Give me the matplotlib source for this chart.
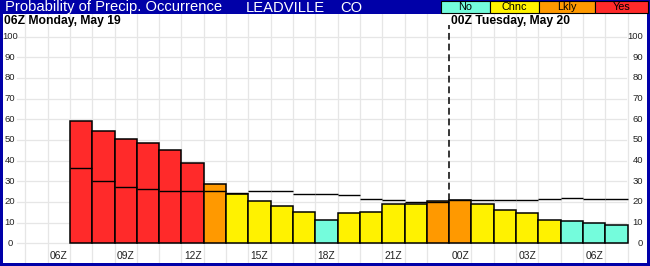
import matplotlib
matplotlib.use("Agg")
import matplotlib.pyplot as plt
from matplotlib.patches import Rectangle
import matplotlib.transforms as mtransforms

plt.rcParams['font.family'] = ['Liberation Sans', 'DejaVu Sans']

# hourly data, hour 7 = 07Z May 19 ... hour 31 = 07Z May 20
hours = list(range(7, 32))
pop = [59, 54.5, 50.6, 48.7, 45.3, 38.7, 28.5, 23.7, 20.6, 18.2, 15.0, 11.4, 14.5,
       15.0, 18.9, 18.9, 20.6, 20.9, 18.9, 16.3, 14.5, 11.4, 10.9, 10.0, 9.0]
clim = [36.3, 30.0, 27.1, 26.1, 25.2, 25.2, 25.2, 24.2, 25.2, 25.2, 23.9, 23.9, 23.4,
        21.4, 20.9, 19.8, 19.8, 21.1, 21.1, 20.8, 20.8, 21.3, 21.8, 21.3, 21.3]
category = ['Yes'] * 6 + ['Lkly'] + ['Chnc'] * 4 + ['No'] + ['Chnc'] * 4 + ['Lkly'] * 2 \
    + ['Chnc'] * 4 + ['No'] * 3
cat_names = ['No', 'Chnc', 'Lkly', 'Yes']
cat_colors = {'No': '#74FCDC', 'Chnc': '#FFF200', 'Lkly': '#FF9900', 'Yes': '#FF2A2A'}
xtick_hours = [6, 9, 12, 15, 18, 21, 24, 27, 30]
xtick_labels = ['06Z', '09Z', '12Z', '15Z', '18Z', '21Z', '00Z', '03Z', '06Z']
yticks = list(range(0, 101, 10))
day_break = 23.5

W, H = 650, 266
blue = '#0000A8'
fig = plt.figure(figsize=(W / 100, H / 100), dpi=100, facecolor=blue)
ax = fig.add_axes([3 / W, 3 / H, 644 / W, 249 / H])
ax.set_facecolor('white')
ax.set_xlim(3.5, 32.37)
ax.set_ylim(-9.5, 110.9)
for s in ax.spines.values():
    s.set_visible(False)
ax.set_xticks([])
ax.set_yticks([])

# grid
for y in yticks:
    ax.plot([4.15, 31.45], [y, y], color='#E6E6E6', lw=0.9, zorder=0)
for k in range(28):
    x = 4.5 + k
    if x == day_break:
        continue
    ax.axvline(x, color='#E6E6E6', lw=0.9, zorder=0)

ax.plot([day_break, day_break], [0, 105.5], color='black', lw=1.1,
        dashes=(4.5, 2.5), zorder=1)

ax.bar(hours, pop, width=1.0, color=[cat_colors[c] for c in category],
       edgecolor='black', linewidth=1.1, zorder=2)
ax.hlines(clim, [h - 0.5 for h in hours], [h + 0.5 for h in hours],
          color='black', lw=1.0, zorder=3)

# tick labels
tl = mtransforms.blended_transform_factory(ax.transAxes, ax.transData)
for y in yticks:
    ax.text(7 / 644, y, str(y), transform=tl, ha='center', va='center',
            fontsize=6.8, color='#222222')
    ax.text(640 / 644, y, str(y), transform=tl, ha='right', va='center',
            fontsize=6.8, color='#222222')
for x, lab in zip(xtick_hours, xtick_labels):
    ax.text(x, -6.3, lab, ha='center', va='center', fontsize=7.4, color='#222222')

ax.text(1 / 644, 0.995, '06Z Monday, May 19', transform=ax.transAxes, ha='left',
        va='top', fontsize=8.7, fontweight='bold')
ax.text(day_break + 0.08, 110.4, '00Z Tuesday, May 20', ha='left', va='top',
        fontsize=8.7, fontweight='bold')

# title bar
ty = 1 - 7.5 / H
fig.text(5 / W, ty, 'Probability of Precip. Occurrence', color='white',
         fontsize=10.6, va='center', ha='left')
fig.text(246 / W, ty, 'LEADVILLE', color='white', fontsize=10.6, va='center', ha='left')
fig.text(340 / W, ty, 'CO', color='white', fontsize=10.6, va='center', ha='left')

# category legend boxes
edges = [441, 490, 539, 595, 648]
for i, name in enumerate(cat_names):
    x0, x1 = edges[i], edges[i + 1]
    fig.patches.append(Rectangle((x0 / W, 1 - 13 / H), (x1 - x0) / W, 12 / H,
                                 transform=fig.transFigure, facecolor=cat_colors[name],
                                 edgecolor='black', linewidth=0.8))
    fig.text((x0 + x1) / 2 / W, 1 - 7.3 / H, name, fontsize=7.8, ha='center',
             va='center', color='black')

fig.savefig('out.png', dpi=100, facecolor=blue)
